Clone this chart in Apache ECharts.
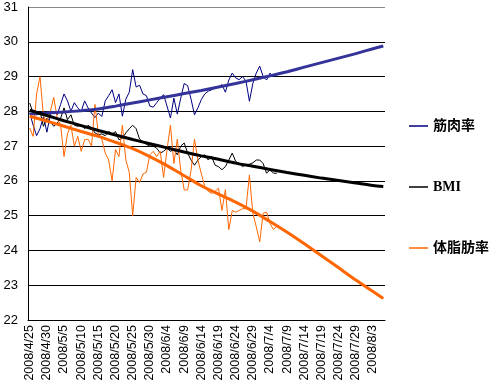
<!DOCTYPE html>
<html>
<head>
<meta charset="utf-8">
<script src="https://cdn.jsdelivr.net/npm/echarts@6/dist/echarts.min.js"></script>
<style>html,body{margin:0;padding:0;background:#fff}#c{width:500px;height:390px}</style>
</head>
<body>
<div id="c"></div>
<script>
// ---- data ----
const startDate = [2008, 4, 25];
const dayCount = 104;
const seriesNames = ['筋肉率', 'BMI', '体脂肪率'];
const yTicks = [22, 23, 24, 25, 26, 27, 28, 29, 30, 31];

const muscle = [27.96,27.6,27.3,27.5,27.85,27.4,27.9,28.0,27.9,28.2,
  28.5,28.3,28.0,28.25,28.1,28.0,28.3,28.1,27.95,27.82,
  27.95,27.85,28.3,28.45,28.62,28.25,28.5,27.86,28.35,28.55,
  29.2,28.7,28.75,28.5,28.45,28.15,28.12,28.25,28.38,28.48,
  28.15,27.81,28.38,27.92,28.38,28.8,28.74,28.35,27.9,28.1,
  28.34,28.5,28.58,28.62,28.67,28.7,28.77,28.55,28.9,29.1,
  28.96,28.91,29.0,28.87,28.29,28.8,29.1,29.3,29.0,28.9,
  29.1,29.0,29.05];

const bmi = [28.24,27.95,27.9,28.0,27.57,27.8,27.7,27.57,27.66,27.8,
  28.1,27.76,27.9,27.6,27.57,27.6,27.5,27.6,27.52,27.38,
  27.33,27.35,27.3,27.42,27.35,27.42,27.18,27.23,27.38,27.5,
  27.6,27.5,27.2,27.13,27.05,27.0,27.0,26.94,26.8,26.85,
  26.94,26.85,26.9,26.75,27.0,27.09,26.8,26.6,26.45,26.6,
  26.7,26.75,26.6,26.7,26.45,26.41,26.32,26.41,26.6,26.8,
  26.56,26.5,26.41,26.46,26.48,26.52,26.6,26.6,26.5,26.22,
  26.32,26.22,26.22];

const bodyFat = [27.52,27.28,28.5,29.0,27.86,27.7,28.0,28.4,27.8,27.6,
  26.7,27.35,27.6,27.0,27.28,26.85,27.18,27.2,27.0,28.2,
  27.35,27.2,26.8,26.6,26.0,26.9,26.7,27.6,26.6,26.25,
  25.0,26.1,25.95,26.2,26.25,26.75,26.85,26.7,26.85,26.1,
  26.9,27.6,26.5,27.2,26.3,25.74,25.74,26.3,27.2,26.6,
  26.2,25.84,25.7,25.64,25.7,25.79,25.15,25.75,24.6,25.15,
  25.1,25.15,25.2,25.2,26.17,25.07,24.68,24.25,25.07,25.1,
  24.78,24.6,24.7];

// trend lines read at these day offsets
const trendDays = [0,5,10,15,20,25,30,35,40,45,50,55,60,65,70,75,80,85,90,95,100,103];
const muscleTrend = [27.92,27.95,27.98,28.02,28.07,28.15,28.24,28.33,28.42,28.51,28.6,28.7,28.8,28.91,29.02,29.14,29.27,29.4,29.53,29.66,29.8,29.88];
const bmiTrend = [28.03,27.88,27.73,27.59,27.45,27.32,27.19,27.07,26.95,26.83,26.72,26.62,26.51,26.42,26.33,26.24,26.16,26.08,26.01,25.94,25.87,25.84];
const bodyFatTrend = [27.86,27.72,27.57,27.42,27.28,27.11,26.93,26.7,26.44,26.15,25.86,25.62,25.39,25.13,24.83,24.52,24.19,23.85,23.5,23.15,22.82,22.62];

// ---- build ----
const categories = [];
for (let i = 0; i < dayCount; i++) {
  const d = new Date(Date.UTC(startDate[0], startDate[1] - 1, startDate[2] + i));
  categories.push(d.getUTCFullYear() + '/' + (d.getUTCMonth() + 1) + '/' + d.getUTCDate());
}
const pairs = (days, vals) => days.map((d, i) => [d, vals[i]]);

const navy = '#000080', trendBlue = '#333399', black = '#000000', orange = '#FF6600';
const font = '"Liberation Sans", Arial, sans-serif';

const chart = echarts.init(document.getElementById('c'), null, {renderer: 'canvas'});
chart.setOption({
  animation: false,
  backgroundColor: '#fff',
  grid: {left: 28, right: 115, top: 7, bottom: 70, containLabel: false},
  legend: {
    data: seriesNames,
    orient: 'vertical',
    left: 404,
    top: 114,
    itemGap: 47,
    itemWidth: 19,
    itemHeight: 1.5,
    icon: 'rect',
    textStyle: {fontFamily: '"Liberation Serif", "Noto Sans CJK JP", serif', fontWeight: 'bold', fontSize: 14, color: '#000'},
    selectedMode: false
  },
  xAxis: {
    type: 'category',
    data: categories,
    boundaryGap: true,
    axisLine: {lineStyle: {color: '#000', width: 1}},
    axisTick: {show: false},
    axisLabel: {interval: 4, rotate: 90, fontFamily: font, fontSize: 12.5, color: '#000', margin: 5},
    splitLine: {show: false}
  },
  yAxis: {
    type: 'value',
    min: yTicks[0],
    max: yTicks[yTicks.length - 1],
    interval: 1,
    axisLine: {show: true, lineStyle: {color: '#000', width: 1}},
    axisTick: {show: false},
    axisLabel: {fontFamily: font, fontSize: 13, color: '#000', margin: 10},
    splitLine: {show: true, lineStyle: {color: ['#000','#000','#000','#000','#000','#000','#000','#000','#000','#888'], width: 1}}
  },
  series: [
    {name: seriesNames[0], type: 'line', data: muscle, color: navy, showSymbol: false, symbol: 'none', lineStyle: {width: 1, color: navy}},
    {name: seriesNames[1], type: 'line', data: bmi, color: black, showSymbol: false, symbol: 'none', lineStyle: {width: 1, color: black}},
    {name: seriesNames[2], type: 'line', data: bodyFat, color: orange, showSymbol: false, symbol: 'none', lineStyle: {width: 1, color: orange}},
    {name: 'trend1', type: 'line', data: pairs(trendDays, muscleTrend), symbol: 'none', smooth: 0.3, lineStyle: {width: 3, color: trendBlue}, z: 3},
    {name: 'trend2', type: 'line', data: pairs(trendDays, bmiTrend), symbol: 'none', smooth: 0.3, lineStyle: {width: 3, color: black}, z: 3},
    {name: 'trend3', type: 'line', data: pairs(trendDays, bodyFatTrend), symbol: 'none', smooth: 0.3, lineStyle: {width: 3, color: orange}, z: 3}
  ]
});
</script>
</body>
</html>
